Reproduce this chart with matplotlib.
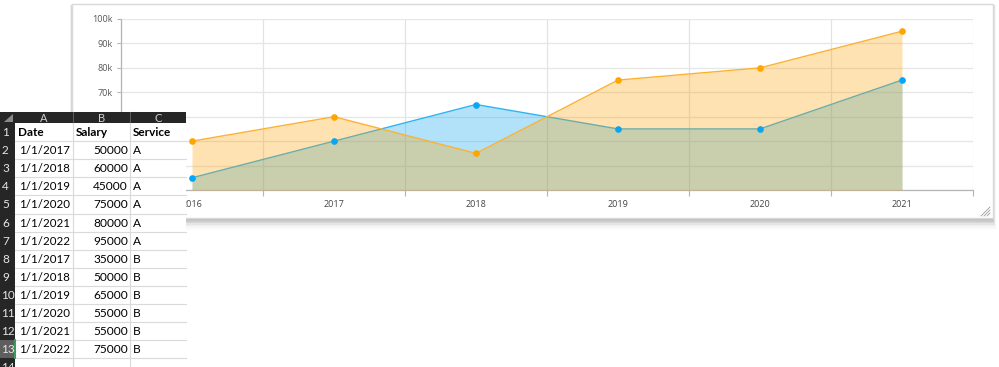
import matplotlib
matplotlib.use("Agg")
import matplotlib.pyplot as plt
from matplotlib.patches import Rectangle, Polygon
import numpy as np

# ---------------- data ----------------
years = ["2016", "2017", "2018", "2019", "2020", "2021"]
salary_a = [50000, 60000, 45000, 75000, 80000, 95000]
salary_b = [35000, 50000, 65000, 55000, 55000, 75000]
y_ticks = [30000, 40000, 50000, 60000, 70000, 80000, 90000, 100000]
y_tick_labels = ["30k", "40k", "50k", "60k", "70k", "80k", "90k", "100k"]

table_header = ["Date", "Salary", "Service"]
table_dates = ["1/1/2017", "1/1/2018", "1/1/2019", "1/1/2020", "1/1/2021", "1/1/2022",
               "1/1/2017", "1/1/2018", "1/1/2019", "1/1/2020", "1/1/2021", "1/1/2022"]
table_salary = [50000, 60000, 45000, 75000, 80000, 95000,
                35000, 50000, 65000, 55000, 55000, 75000]
table_service = ["A"] * 6 + ["B"] * 6
col_letters = ["A", "B", "C"]

W, H = 999, 367
fig = plt.figure(figsize=(W / 100, H / 100), dpi=100)
fig.patch.set_facecolor("white")

# ---------------- background panel ----------------
bg = fig.add_axes([0, 0, 1, 1], zorder=0)
bg.set_xlim(0, W)
bg.set_ylim(H, 0)
bg.axis("off")
# shadow
for i, a in enumerate([0.07, 0.06, 0.05, 0.04, 0.03, 0.02, 0.015]):
    bg.add_patch(Rectangle((72 - i * 0.4, 4 + i * 0.2), 921 + i * 0.9, 216 + i * 1.4,
                           facecolor="black", edgecolor="none", alpha=a))
bg.add_patch(Rectangle((72, 4), 921, 214, facecolor="white", edgecolor="#d9d9d9", lw=1))
# resize grip
for d in (3, 6, 9):
    bg.plot([990 - d, 990], [216, 216 - d], color="#9a9a9a", lw=0.6)

# ---------------- chart ----------------
left, right, top, bottom = 121, 973, 19, 190
ax = fig.add_axes([left / W, (H - bottom) / H, (right - left) / W, (bottom - top) / H], zorder=1)
ax.set_facecolor("none")
x = np.arange(len(years))
base = y_ticks[0]

orange = "#FFA000"
blue = "#00A2EE"

ax.fill_between(x, base, salary_b, color=blue, alpha=0.3, lw=0, zorder=2)
ax.plot(x, salary_b, color="#2BB3F3", lw=1.0, zorder=3)
ax.fill_between(x, base, salary_a, color=orange, alpha=0.3, lw=0, zorder=4)
ax.plot(x, salary_a, color="#FBB234", lw=1.0, zorder=5)
ax.plot(x, salary_a, "o", color="#FFA500", ms=4.8, mec="none", zorder=6)
ax.plot(x, salary_b, "o", color="#07A6F5", ms=4.8, mec="none", zorder=6)

ax.set_xlim(-0.5, len(years) - 0.5)
ax.set_ylim(y_ticks[0], y_ticks[-1])
ax.set_yticks(y_ticks)
ax.set_yticklabels(y_tick_labels)
ax.set_xticks(x)
ax.set_xticklabels(years)
ax.set_xticks(np.arange(len(years) + 1) - 0.5, minor=True)
ax.tick_params(axis="x", which="major", length=0, pad=7, labelsize=6.5, labelcolor="#444444")
ax.tick_params(axis="x", which="minor", length=4, color="#b5b5b5", width=0.8)
ax.tick_params(axis="y", length=3, color="#b5b5b5", width=0.8, pad=3, labelsize=6.5,
               labelcolor="#555555")
for lab in ax.get_xticklabels() + ax.get_yticklabels():
    lab.set_fontfamily("Open Sans")
# labels under the spreadsheet overlay are not visible in the reference
for lab, val in zip(ax.get_yticklabels(), y_ticks):
    if val <= 60000:
        lab.set_visible(False)
ax.grid(axis="y", color="#e6e6e6", lw=0.9, zorder=0)
ax.grid(axis="x", which="minor", color="#e3e3e3", lw=0.9, zorder=0)
for s in ("top", "right"):
    ax.spines[s].set_visible(False)
ax.spines["left"].set_color("#b5b5b5")
ax.spines["bottom"].set_color("#b5b5b5")
ax.spines["left"].set_linewidth(0.9)
ax.spines["bottom"].set_linewidth(0.9)

# ---------------- spreadsheet overlay ----------------
tb = fig.add_axes([0, 0, 1, 1], zorder=3)
tb.set_xlim(0, W)
tb.set_ylim(H, 0)
tb.axis("off")
tb.set_facecolor("none")

tx0, tx1 = 0, 186
ty0 = 112
head_h = 11
row_h = 18.1
col_edges = [15, 73, 130, 186]
dark = "#262626"

tb.add_patch(Rectangle((tx0, ty0), tx1 - tx0, H - ty0, facecolor="white", edgecolor="none"))
# header bar
tb.add_patch(Rectangle((tx0, ty0), tx1 - tx0, head_h, facecolor=dark, edgecolor="none"))
# row-number column
tb.add_patch(Rectangle((tx0, ty0), col_edges[0], H - ty0, facecolor=dark, edgecolor="none"))
# select-all triangle
tb.add_patch(Polygon([[13, 113.5], [13, 122], [4, 122]], closed=True, facecolor="#8a8a8a",
                     edgecolor="none"))
for ce in col_edges[1:3]:
    tb.plot([ce, ce], [ty0, ty0 + head_h], color="#5a5a5a", lw=0.8)
for i, letter in enumerate(col_letters):
    cx = (col_edges[i] + col_edges[i + 1]) / 2
    tb.text(cx, ty0 + head_h / 2 + 1, letter, color="#cfcfcf", fontsize=8, ha="center",
            va="center", family="Lato")

n_rows = len(table_dates) + 2
row_top = ty0 + head_h
# grid lines
for r in range(1, n_rows + 1):
    yy = row_top + r * row_h
    if yy < H:
        tb.plot([col_edges[0], tx1], [yy, yy], color="#dadada", lw=0.8)
for ce in col_edges[1:3]:
    tb.plot([ce, ce], [row_top, H], color="#dadada", lw=0.8)

# selected row 13 number cell
sel = 13
tb.add_patch(Rectangle((0, row_top + (sel - 1) * row_h), col_edges[0], row_h,
                       facecolor="#5e5e5e", edgecolor="none"))
tb.plot([col_edges[0] - 0.5, col_edges[0] - 0.5],
        [row_top + (sel - 1) * row_h, row_top + sel * row_h], color="#3c9a5f", lw=1.5)

for r in range(1, n_rows + 1):
    cy = row_top + (r - 0.5) * row_h
    tb.text(7.5 if r >= 10 else 2, cy + 0.5, str(r), color="#e6e6e6", fontsize=8.5,
            ha="center" if r >= 10 else "left", va="center", family="Lato")

# header row
hy = row_top + 0.5 * row_h
for i, h in enumerate(table_header):
    tb.text(col_edges[i] + 3, hy + 0.5, h, fontsize=8.5, fontweight="bold", ha="left",
            va="center", family="Lato", color="black")

for k in range(len(table_dates)):
    cy = row_top + (k + 1.5) * row_h + 0.5
    tb.text(col_edges[1] - 3, cy, table_dates[k], fontsize=8.3, ha="right", va="center",
            family="Lato", color="black")
    tb.text(col_edges[2] - 2, cy, str(table_salary[k]), fontsize=8.6, ha="right", va="center",
            family="Lato", color="black")
    tb.text(col_edges[2] + 3, cy, table_service[k], fontsize=8.6, ha="left", va="center",
            family="Lato", color="black")

fig.savefig("out.png", dpi=100)
